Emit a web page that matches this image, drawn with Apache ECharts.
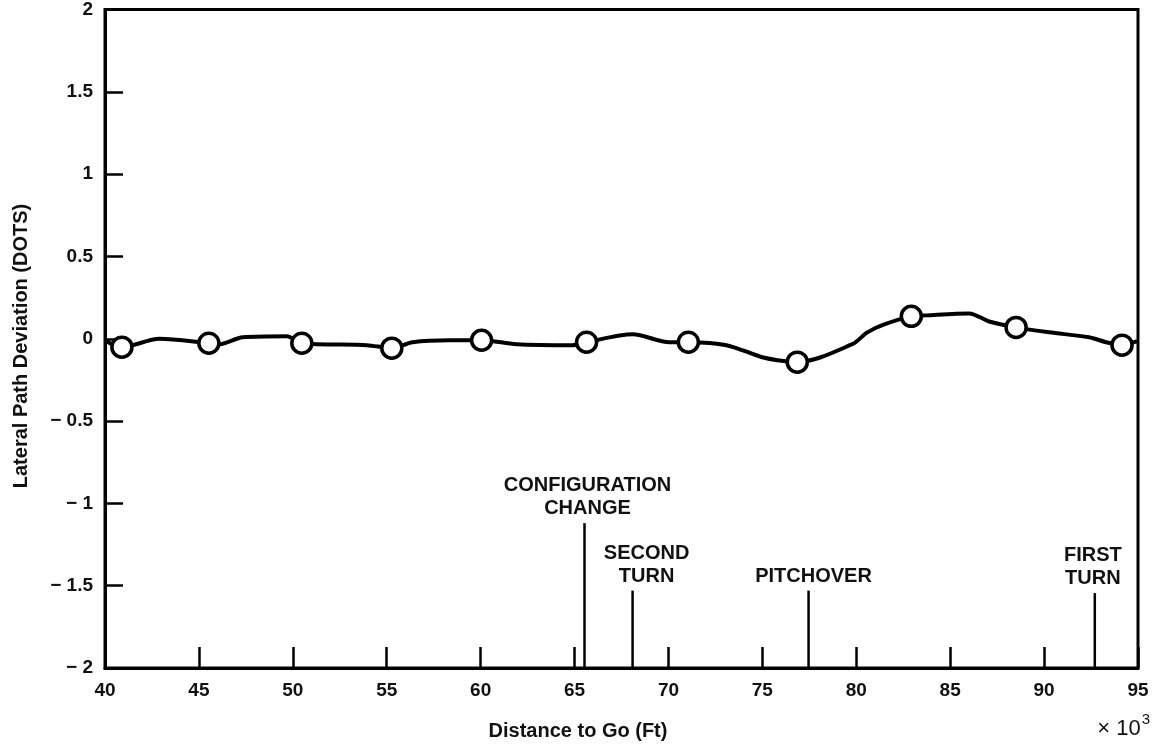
<!DOCTYPE html>
<html>
<head>
<meta charset="utf-8">
<script src="https://cdn.jsdelivr.net/npm/echarts@6/dist/echarts.min.js"></script>
<style>
  html, body { margin: 0; padding: 0; background: #fff; }
  #chart { width: 1163px; height: 746px; }
</style>
</head>
<body>
<div id="chart"></div>
<script>
// Lateral path deviation trace (distance in thousands of feet)
const traceX = [40.0, 40.9, 42.9, 45.53, 46.1, 47.34, 49.68, 50.48, 53.94, 55.27, 56.38, 58.35, 60.05,
  61.91, 64.89, 65.64, 68.09, 70.05, 71.06, 73.09, 74.95, 75.8, 76.86, 79.79, 80.59, 81.49,
  82.93, 83.72, 86.01, 87.07, 88.51, 90.27, 92.39, 93.3, 94.15, 94.95];
const traceY = [-0.01, -0.051, 0.0, -0.027, -0.033, 0.009, 0.015, -0.027, -0.039, -0.057, -0.021, -0.009, -0.009,
  -0.033, -0.039, -0.021, 0.027, -0.021, -0.021, -0.039, -0.111, -0.13, -0.142, -0.033, 0.039, 0.087,
  0.136, 0.142, 0.154, 0.105, 0.069, 0.039, 0.009, -0.021, -0.039, -0.015];

// Sample points shown as open circles
const sampleX = [40.9, 45.53, 50.48, 55.27, 60.05, 65.64, 71.06, 76.86, 82.93, 88.51, 94.15];
const sampleY = [-0.051, -0.027, -0.027, -0.057, -0.009, -0.021, -0.021, -0.142, 0.136, 0.069, -0.039];

// Flight events marked along the bottom axis
const eventNames = ['CONFIGURATION\nCHANGE', 'SECOND\nTURN', 'PITCHOVER', 'FIRST\nTURN'];
const eventX = [65.53, 68.09, 77.46, 92.70];
const eventTop = [-1.12, -1.53, -1.53, -1.545];

const FONT = "'Liberation Sans', Arial, Helvetica, sans-serif";
const INK = '#000';
// horizontal nudge of each event caption relative to its marker line
const captionShift = [3, 14, 5, -2];

const chart = echarts.init(document.getElementById('chart'), null, { renderer: 'canvas' });

function fmtY(v) {
  if (v === 0) return '0';
  return (v < 0 ? '\u2212 ' : '') + String(Math.abs(v));
}

const option = {
  backgroundColor: '#fff',
  animation: false,
  grid: {
    left: 105, right: 25, top: 7, bottom: 78,
    show: true, borderColor: INK, borderWidth: 3, backgroundColor: 'transparent'
  },
  xAxis: {
    type: 'value', min: 40, max: 95, interval: 5,
    axisLine: { show: true, onZero: false, lineStyle: { color: INK, width: 3 } },
    axisTick: { show: true, inside: true, length: 21, lineStyle: { color: INK, width: 2.5 } },
    splitLine: { show: false },
    axisLabel: { color: '#111', fontFamily: FONT, fontWeight: 'bold', fontSize: 19, margin: 13 }
  },
  yAxis: {
    type: 'value', min: -2, max: 2, interval: 0.5,
    axisLine: { show: true, onZero: false, lineStyle: { color: INK, width: 3 } },
    axisTick: { show: true, inside: true, length: 18, lineStyle: { color: INK, width: 2.5 } },
    splitLine: { show: false },
    axisLabel: { color: '#111', fontFamily: FONT, fontWeight: 'bold', fontSize: 19, margin: 12, formatter: fmtY }
  },
  graphic: [
    {
      type: 'text', x: 21, y: 346, rotation: Math.PI / 2,
      style: {
        text: 'Lateral Path Deviation (DOTS)', fill: '#111',
        fontFamily: FONT, fontWeight: 'bold', fontSize: 20,
        align: 'center', verticalAlign: 'middle'
      }
    },
    {
      type: 'text', x: 578, y: 731,
      style: {
        text: 'Distance to Go (Ft)', fill: '#111',
        fontFamily: FONT, fontWeight: 'bold', fontSize: 20,
        align: 'center', verticalAlign: 'middle'
      }
    },
    {
      type: 'text', x: 1150, y: 726,
      style: {
        text: '{a|\u00d7 10}{s|3}', align: 'right', verticalAlign: 'middle',
        rich: {
          a: { fill: '#111', fontFamily: FONT, fontSize: 22, verticalAlign: 'bottom' },
          s: { fill: '#111', fontFamily: FONT, fontSize: 15, verticalAlign: 'top', padding: [0, 0, 12, 1] }
        }
      }
    }
  ],
  series: [
    {
      type: 'line',
      data: traceX.map((x, i) => [x, traceY[i]]),
      smooth: 0.3,
      showSymbol: false,
      lineStyle: { color: INK, width: 4 },
      z: 3
    },
    {
      type: 'scatter',
      data: sampleX.map((x, i) => [x, sampleY[i]]),
      symbol: 'circle', symbolSize: 20,
      itemStyle: { color: '#fff', borderColor: INK, borderWidth: 3.5, opacity: 1 },
      z: 5
    },
    {
      type: 'custom',
      data: eventX.map((x, i) => [x, eventTop[i]]),
      clip: false,
      renderItem: function (params, api) {
        const i = params.dataIndex;
        const base = api.coord([api.value(0), -2]);
        const tip = api.coord([api.value(0), api.value(1)]);
        return {
          type: 'group',
          children: [
            {
              type: 'line',
              shape: { x1: base[0], y1: base[1], x2: tip[0], y2: tip[1] },
              style: { stroke: INK, lineWidth: 2.5 }
            },
            {
              type: 'text',
              x: tip[0] + captionShift[i], y: tip[1] - 3,
              style: {
                text: eventNames[i], fill: '#111',
                fontFamily: FONT, fontWeight: 'bold', fontSize: 20, lineHeight: 23,
                align: 'center', verticalAlign: 'bottom'
              }
            }
          ]
        };
      },
      z: 4
    }
  ]
};

chart.setOption(option);
</script>
</body>
</html>
